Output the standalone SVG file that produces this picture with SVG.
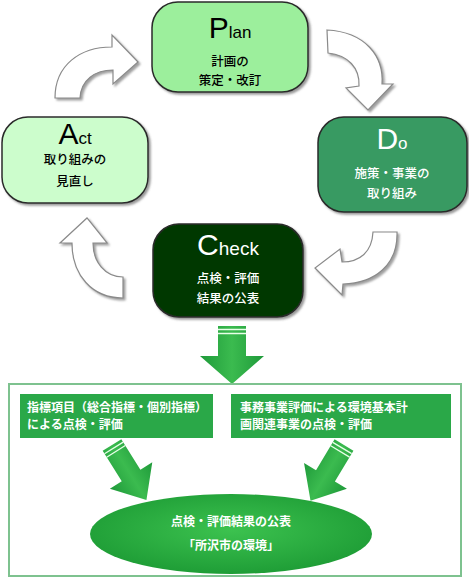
<svg xmlns="http://www.w3.org/2000/svg" width="469" height="579" viewBox="0 0 469 579">
<style>
.box{stroke:#2a2a2a;stroke-width:1.5}
.big{font-family:"Liberation Sans",Arial,sans-serif;text-anchor:middle}
.jp{font-family:"Noto Sans CJK JP","Noto Sans",sans-serif;font-size:12.5px;font-weight:500;text-anchor:middle}
.jpb{font-family:"Noto Sans CJK JP","Noto Sans",sans-serif;font-size:12px;font-weight:bold;fill:#fff}
.cyc{fill:#fff;stroke:#8a8a8a;stroke-width:1.2}
.garrow{fill:url(#gg)}
</style>
<defs>
<filter id="sh" x="-10%" y="-10%" width="130%" height="130%"><feDropShadow dx="2" dy="2" stdDeviation="1.2" flood-color="#555" flood-opacity="0.6"/></filter>
<filter id="sh2" x="-10%" y="-10%" width="130%" height="130%"><feDropShadow dx="2" dy="2" stdDeviation="0.8" flood-color="#777" flood-opacity="0.7"/></filter>
<linearGradient id="gg" x1="0" y1="0" x2="1" y2="0"><stop offset="0" stop-color="#1f9a3a"/><stop offset="0.5" stop-color="#3bbb4f"/><stop offset="1" stop-color="#1f9a3a"/></linearGradient>
<radialGradient id="eg" cx="0.5" cy="0.45" r="0.6"><stop offset="0" stop-color="#3cc24f"/><stop offset="1" stop-color="#1c9a34"/></radialGradient>
</defs>

<g id="connectors">
<path class="cyc" filter="url(#sh2)" d="M55,98 C55,65 80,47 112,47 L112,35 L138,62 L113,84 L113,70 C95,70 81,80 80,98 Z"/>
<path class="cyc" filter="url(#sh2)" d="M327,30 C365,32 384,56 382,84 L393,84 L368,110 L346,88 L359,86 C360,68 348,55 328,53 Z"/>
<path class="cyc" filter="url(#sh2)" d="M373,232 L397,232 C398,265 375,283 343,284 L342,295 L315,268 L340,249 L342,262 C360,262 372,252 373,232 Z"/>
<path class="cyc" filter="url(#sh2)" d="M123,298 C92,298 72,275 72,243 L60,243 L87,218 L107,243 L93,243 C93,262 105,277 123,277 Z"/>
<g id="bigDown">
<path class="garrow" d="M218,326 L246,326 L246,356 L264,356 L232,384 L200,356 L218,356 Z"/>
<path d="M218,329.5 H246 M218,333.5 H246" stroke="#e8ffe8" stroke-width="1.3"/>
</g>
<g id="leftDiag" transform="translate(112,445) rotate(-32)">
<path class="garrow" d="M-11,0 L11,0 L11,36 L25,36 L0,65 L-25,36 L-11,36 Z"/>
<path d="M-11,3.5 H11 M-11,7.5 H11" stroke="#e8ffe8" stroke-width="1.3"/>
</g>
<g id="rightDiag" transform="translate(344,445) rotate(31)">
<path class="garrow" d="M-11,0 L11,0 L11,36 L25,36 L0,65 L-25,36 L-11,36 Z"/>
<path d="M-11,3.5 H11 M-11,7.5 H11" stroke="#e8ffe8" stroke-width="1.3"/>
</g>
</g>

<g id="plan">
<rect class="box" x="152" y="2" width="156" height="90" rx="26" fill="#9cef9c" filter="url(#sh)"/>
<text class="big" x="230" y="38"><tspan font-size="30">P</tspan><tspan font-size="17">lan</tspan></text>
<text class="jp" x="230" y="66">計画の</text>
<text class="jp" x="230" y="85">策定・改訂</text>
</g>

<g id="act">
<rect class="box" x="2" y="117" width="146" height="86" rx="26" fill="#ccfdcc" filter="url(#sh)"/>
<text class="big" x="75" y="144"><tspan font-size="30">A</tspan><tspan font-size="17">ct</tspan></text>
<text class="jp" x="75" y="164">取り組みの</text>
<text class="jp" x="75" y="186">見直し</text>
</g>

<g id="do">
<rect class="box" x="318" y="117" width="149" height="95" rx="26" fill="#379a62" filter="url(#sh)"/>
<text class="big" x="392" y="149" fill="#fff"><tspan font-size="30">D</tspan><tspan font-size="17">o</tspan></text>
<text class="jp" x="392" y="178" fill="#fff">施策・事業の</text>
<text class="jp" x="392" y="198" fill="#fff">取り組み</text>
</g>

<g id="check">
<rect class="box" x="153" y="224" width="150" height="93" rx="26" fill="#063806" filter="url(#sh)"/>
<text class="big" x="228" y="255" fill="#fff"><tspan font-size="30">C</tspan><tspan font-size="19">heck</tspan></text>
<text class="jp" x="228" y="283" fill="#fff">点検・評価</text>
<text class="jp" x="228" y="303" fill="#fff">結果の公表</text>
</g>

<g id="outer">
<rect x="9" y="384" width="452" height="192" fill="none" stroke="#7ec28f" stroke-width="2"/>
</g>

<g id="left-box">
<rect x="20" y="394" width="193" height="44" fill="#2aa848"/>
<text class="jpb" x="27" y="412">指標項目（総合指標・個別指標）</text>
<text class="jpb" x="27" y="429">による点検・評価</text>
</g>

<g id="right-box">
<rect x="231" y="394" width="220" height="44" fill="#2aa848"/>
<text class="jpb" x="240" y="412">事務事業評価による環境基本計</text>
<text class="jpb" x="240" y="429">画関連事業の点検・評価</text>
</g>

<g id="result">
<ellipse cx="231" cy="534" rx="141" ry="40" fill="url(#eg)"/>
<text class="jpb" x="231" y="526" text-anchor="middle" font-size="13">点検・評価結果の公表</text>
<text class="jpb" x="231" y="550" text-anchor="middle" font-size="13">「所沢市の環境」</text>
</g>
</svg>
